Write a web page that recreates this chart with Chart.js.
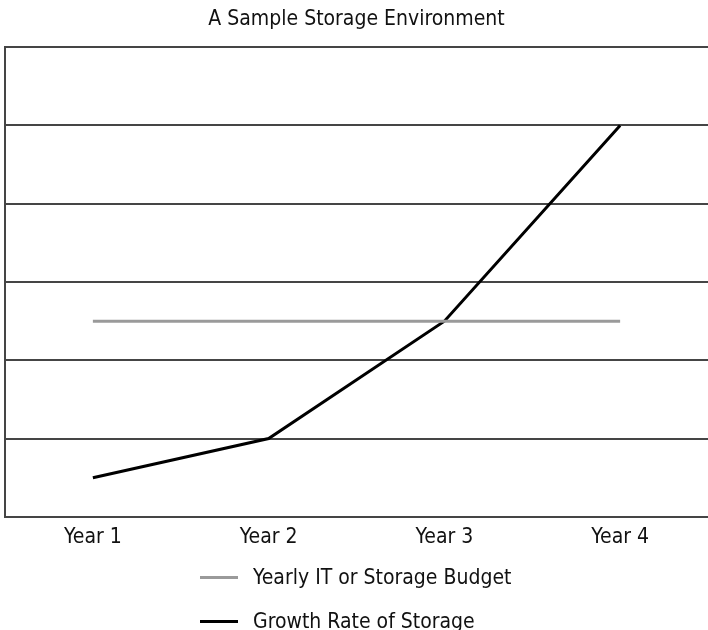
<!DOCTYPE html>
<html>
<head>
<meta charset="utf-8">
<script src="https://cdn.jsdelivr.net/npm/chart.js@4.4.0/dist/chart.umd.min.js"></script>
<style>
  body { margin: 0; background: #fff; }
  #wrap { position: relative; width: 708px; height: 630px; }
  #box { width: 708px; height: 558px; }
  #legend { position: absolute; left: 200px; top: 555px; font-family: "DejaVu Sans Condensed", "Liberation Sans Narrow", sans-serif; font-size: 21px; color: #111; }
  .item { display: flex; align-items: center; height: 44px; }
  .mark { width: 38px; margin-right: 15px; }
</style>
</head>
<body>
<div id="wrap">
  <div id="box"><canvas id="chart"></canvas></div>
  <div id="legend"></div>
</div>
<script>
'use strict';

// chart data
let years = ['Year 1', 'Year 2', 'Year 3', 'Year 4'];
let budget = [2.5, 2.5, 2.5, 2.5];
let growth = [0.5, 1, 2.5, 5];
let yTicks = [0, 1, 2, 3, 4, 5, 6];

let fontFamily = '"DejaVu Sans Condensed", "Liberation Sans Narrow", sans-serif';
let gridColor = '#454545';

let ctx = document.getElementById('chart').getContext('2d');
let myChart = new Chart(ctx, {
    type: 'line',
    data: {
        labels: years,
        datasets: [
            {
                label: 'Yearly IT or Storage Budget',
                data: budget,
                borderColor: '#9a9a9a',
                borderWidth: 3,
                pointRadius: 0,
                tension: 0,
            },
            {
                label: 'Growth Rate of Storage',
                data: growth,
                borderColor: '#000000',
                borderWidth: 3,
                pointRadius: 0,
                tension: 0,
            },
        ],
    },
    options: {
        responsive: true,
        maintainAspectRatio: false,
        animation: false,
        layout: { padding: { left: 5, right: 0, top: 0, bottom: 0 } },
        plugins: {
            legend: { display: false },
            tooltip: { enabled: false },
            title: {
                display: true,
                text: 'A Sample Storage Environment',
                color: '#111',
                font: { family: fontFamily, size: 21, weight: 'normal' },
                padding: { top: 7, bottom: 15 },
            },
        },
        scales: {
            x: {
                offset: true,
                grid: { display: false, drawTicks: false },
                border: { display: true, color: gridColor, width: 2 },
                ticks: { color: '#111', padding: 8, font: { family: fontFamily, size: 21 } },
            },
            y: {
                min: yTicks[0],
                max: yTicks[yTicks.length - 1],
                afterBuildTicks: function (axis) {
                    axis.ticks = yTicks.map(v => ({ value: v }));
                },
                grid: { color: gridColor, lineWidth: 2, drawTicks: false },
                border: { display: true, color: gridColor, width: 2 },
                ticks: { display: false },
            },
        },
    },
});

// html legend, one row per dataset
let legendSpot = document.getElementById('legend');
myChart.data.datasets.forEach(function (ds) {
    let row = document.createElement('div');
    row.className = 'item';
    let mark = document.createElement('span');
    mark.className = 'mark';
    mark.style.borderTop = ds.borderWidth + 'px solid ' + ds.borderColor;
    let txt = document.createElement('span');
    txt.textContent = ds.label;
    row.appendChild(mark);
    row.appendChild(txt);
    legendSpot.appendChild(row);
});
</script>
</body>
</html>
